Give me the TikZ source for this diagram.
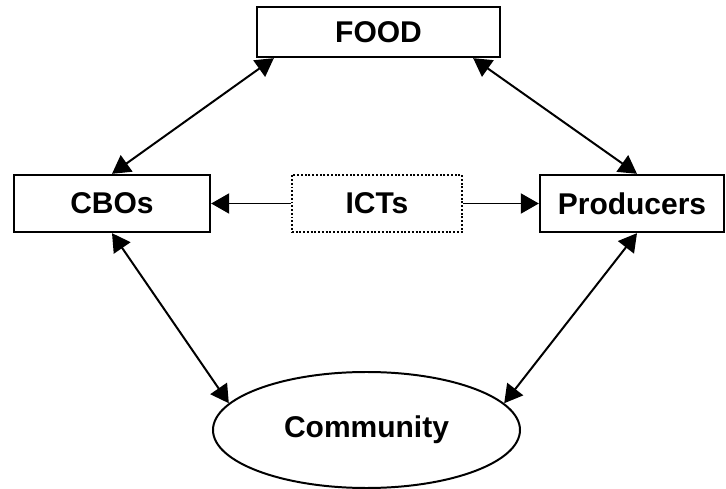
\documentclass[tikz,border=0pt]{standalone}
\usepackage{fontspec}
\setmainfont{Liberation Sans}
\usepackage{tikz}
\usetikzlibrary{positioning,shapes,calc,arrows.meta}

\begin{document}
\begin{tikzpicture}[x=0.03cm,y=-0.03cm,
    >={Triangle[length=0.54cm,width=0.6cm]},
    box/.style={draw,line width=2pt,rectangle,font=\fontsize{25.6}{30}\selectfont\bfseries,minimum height=1.71cm,inner sep=0pt},
    link/.style={line width=1.7pt}]
            \useasboundingbox (0,0) rectangle (726,489);
            \node[box,minimum width=7.29cm,minimum height=1.5cm] (food) at (378.5,32) {FOOD};
            \node[box,minimum width=5.88cm] (cbos) at (112,203.5) {CBOs};
            \node[box,minimum width=5.1cm,line width=1.5pt,dash pattern=on 1.6pt off 1.6pt] (icts) at (377,203.5) {ICTs};
            \node[box,minimum width=5.52cm] (producers) at (632,203.5) {Producers};
            \node[draw,ellipse,line width=1.7pt,font=\fontsize{25.6}{30}\selectfont\bfseries,minimum width=9.21cm,minimum height=3.48cm,inner sep=0pt] (community) at (366.5,430) {Community};
            % links
            \draw[link,<->] ([xshift=0.54cm]food.south west) -- (cbos.north);
            \draw[link,<->] ([xshift=-0.84cm]food.south east) -- ([xshift=0.15cm]producers.north);
            \draw[link,->] (icts.west) -- (cbos.east);
            \draw[link,->] (icts.east) -- (producers.west);
            \draw[link,<->] (cbos.south) -- (community.169);
            \draw[link,<->] ([xshift=0.15cm]producers.south) -- (community.11);
\end{tikzpicture}
\end{document}
